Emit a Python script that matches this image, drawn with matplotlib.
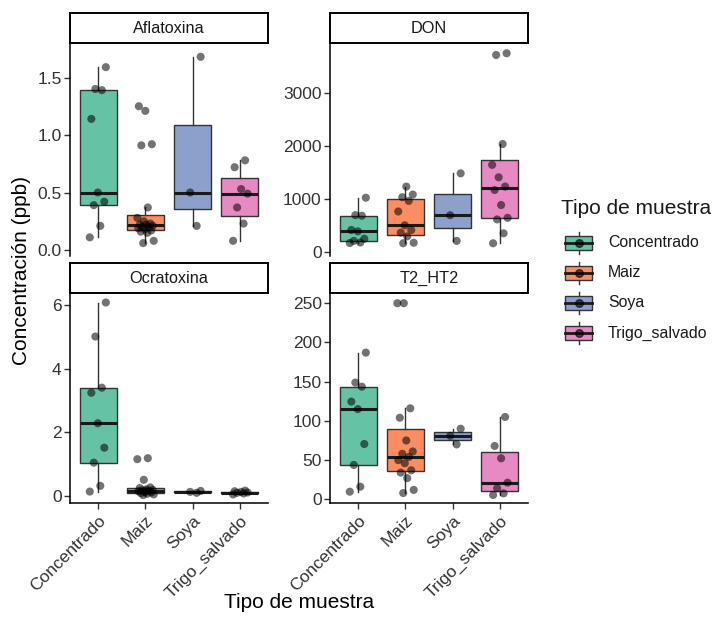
import numpy as np
import matplotlib
matplotlib.use("Agg")
import matplotlib.pyplot as plt
from matplotlib.patches import Rectangle

plt.rcParams['font.family'] = ['Liberation Sans', 'DejaVu Sans']

# ---------------- data ----------------
categories = ["Concentrado", "Maiz", "Soya", "Trigo_salvado"]
toxins = ["Aflatoxina", "DON", "Ocratoxina", "T2_HT2"]
colors = ["#66C2A5", "#FC8D62", "#8DA0CB", "#E78AC3"]

afla_concentrado = [0.11, 0.21, 0.39, 0.42, 0.50, 1.14, 1.39, 1.40, 1.59]
afla_maiz = [0.06, 0.08, 0.15, 0.16, 0.17, 0.18, 0.19, 0.20, 0.20, 0.21,
             0.22, 0.22, 0.23, 0.25, 0.28, 0.37, 0.91, 0.92, 1.21, 1.25]
afla_soya = [0.21, 0.50, 1.68]
afla_trigo = [0.08, 0.23, 0.37, 0.49, 0.53, 0.72, 0.78]

don_concentrado = [175, 185, 215, 255, 395, 420, 690, 700, 1030]
don_maiz = [170, 180, 300, 370, 420, 510, 770, 970, 1040, 1090, 1240]
don_soya = [215, 700, 1490]
don_trigo = [170, 358, 620, 650, 892, 1175, 1240, 1415, 1650, 2043, 3723, 3755]

ocra_concentrado = [0.13, 0.31, 1.04, 1.51, 2.28, 3.24, 3.40, 5.01, 6.08]
ocra_maiz = [0.02, 0.04, 0.06, 0.08, 0.10, 0.12, 0.14, 0.15, 0.17, 0.18,
             0.20, 0.24, 0.26, 0.50, 1.15, 1.18]
ocra_soya = [0.09, 0.12, 0.15]
ocra_trigo = [0.04, 0.07, 0.09, 0.10, 0.12, 0.14, 0.16]

t2_concentrado = [9.7, 16.1, 43.8, 70.5, 115.0, 124.5, 143.6, 148.8, 187.0]
t2_maiz = [8, 12, 27, 34, 37, 46, 50, 54, 58, 61, 75, 104, 116, 250, 250]
t2_soya = [70, 81, 90]
t2_trigo = [5.5, 7.6, 14.0, 21.2, 52.3, 68.0, 105.0]

panel_data = {
    "Aflatoxina": [afla_concentrado, afla_maiz, afla_soya, afla_trigo],
    "DON": [don_concentrado, don_maiz, don_soya, don_trigo],
    "Ocratoxina": [ocra_concentrado, ocra_maiz, ocra_soya, ocra_trigo],
    "T2_HT2": [t2_concentrado, t2_maiz, t2_soya, t2_trigo],
}
yticks = {
    "Aflatoxina": ([0.0, 0.5, 1.0, 1.5], ["0.0", "0.5", "1.0", "1.5"]),
    "DON": ([0, 1000, 2000, 3000], ["0", "1000", "2000", "3000"]),
    "Ocratoxina": ([0, 2, 4, 6], ["0", "2", "4", "6"]),
    "T2_HT2": ([0, 50, 100, 150, 200, 250], ["0", "50", "100", "150", "200", "250"]),
}
ylims = {
    "Aflatoxina": (-0.052, 1.80),
    "DON": (-70, 3949),
    "Ocratoxina": (-0.23, 6.38),
    "T2_HT2": (-4.7, 263),
}

# ---------------- layout (pixels) ----------------
W, H = 717, 617
fig = plt.figure(figsize=(W / 100, H / 100), dpi=100)


def px_axes(x0, y0, x1, y1):
    return fig.add_axes([x0 / W, 1 - y1 / H, (x1 - x0) / W, (y1 - y0) / H])


panel_px = {
    "Aflatoxina": (70, 43, 268, 256),
    "DON": (330, 43, 528, 256),
    "Ocratoxina": (70, 293, 268, 503),
    "T2_HT2": (330, 293, 528, 503),
}
EDGE = "#333333"
TICKCOL = "#333333"

for name in toxins:
    x0, y0, x1, y1 = panel_px[name]
    ax = px_axes(x0, y0, x1, y1)
    data = panel_data[name]
    positions = np.arange(1, len(categories) + 1)
    bp = ax.boxplot(data, positions=positions, widths=0.78, patch_artist=True,
                    showfliers=False, showcaps=False, whis=1.5,
                    boxprops=dict(edgecolor=EDGE, linewidth=1.0),
                    whiskerprops=dict(color=EDGE, linewidth=1.0),
                    medianprops=dict(color="#1a1a1a", linewidth=2.2),
                    zorder=2)
    for patch, c in zip(bp["boxes"], colors):
        patch.set_facecolor(c)
    # jittered points (deterministic jitter)
    for k, vals in enumerate(data):
        n = len(vals)
        offs = (((np.arange(n) * 0.618034 + k * 0.37) % 1.0) - 0.5) * 0.36
        ax.scatter(positions[k] + offs, vals, s=34, color="black", alpha=0.55,
                   edgecolors="none", zorder=3)
    ax.set_xlim(0.4, 4.6)
    ax.set_ylim(*ylims[name])
    t, lab = yticks[name]
    ax.set_yticks(t)
    ax.set_yticklabels(lab, fontsize=12.5, color=TICKCOL)
    ax.tick_params(axis="y", length=4, width=1.0, color=TICKCOL, pad=2)
    for s in ["top", "right"]:
        ax.spines[s].set_visible(False)
    ax.spines["left"].set_linewidth(1.1)
    ax.spines["left"].set_color("black")
    if name in ("Ocratoxina", "T2_HT2"):
        ax.set_xticks(positions)
        ax.set_xticklabels(categories, rotation=45, ha="right",
                           rotation_mode="anchor", fontsize=12.5, color=TICKCOL)
        ax.tick_params(axis="x", length=4, width=1.0, color=TICKCOL, pad=3)
        ax.spines["bottom"].set_linewidth(1.1)
        ax.spines["bottom"].set_color("black")
    else:
        ax.set_xticks([])
        ax.spines["bottom"].set_visible(False)
    # strip
    sax = px_axes(x0, y0 - 30, x1, y0)
    sax.set_xticks([])
    sax.set_yticks([])
    for s in sax.spines.values():
        s.set_linewidth(1.4)
        s.set_color("black")
    sax.text(0.5, 0.47, name, ha="center", va="center", fontsize=11.7,
             color="#1a1a1a", transform=sax.transAxes)

# axis titles
fig.text(22 / W, 1 - 270 / H, "Concentración (ppb)", rotation=90,
         ha="center", va="center", fontsize=15)
fig.text(299 / W, 1 - 603 / H, "Tipo de muestra", ha="center", va="center",
         fontsize=15)

# legend drawn in a pixel-coordinate axes
lax = px_axes(540, 180, 717, 360)
lax.set_xlim(540, 717)
lax.set_ylim(360, 180)
lax.axis("off")
lax.text(561, 209, "Tipo de muestra", ha="left", va="center", fontsize=15,
         color="#1a1a1a")
key_x0, key_x1 = 565, 592
for i, (c, lab) in enumerate(zip(colors, categories)):
    cy = 243 + 30 * i
    cx = (key_x0 + key_x1) / 2
    lax.plot([cx, cx], [cy - 11, cy + 11], color=EDGE, lw=1.0, zorder=1)
    lax.add_patch(Rectangle((key_x0, cy - 7), key_x1 - key_x0, 14,
                            facecolor=c, edgecolor=EDGE, lw=1.0, zorder=2))
    lax.plot([key_x0, key_x1], [cy, cy], color="#1a1a1a", lw=2.0, zorder=3)
    lax.plot([cx], [cy], marker="o", ms=5.5, color="black", alpha=0.6,
             linestyle="none", zorder=4)
    lax.text(608, cy, lab, ha="left", va="center", fontsize=11.4,
             color="#1a1a1a")

fig.savefig("out.png", dpi=100)
